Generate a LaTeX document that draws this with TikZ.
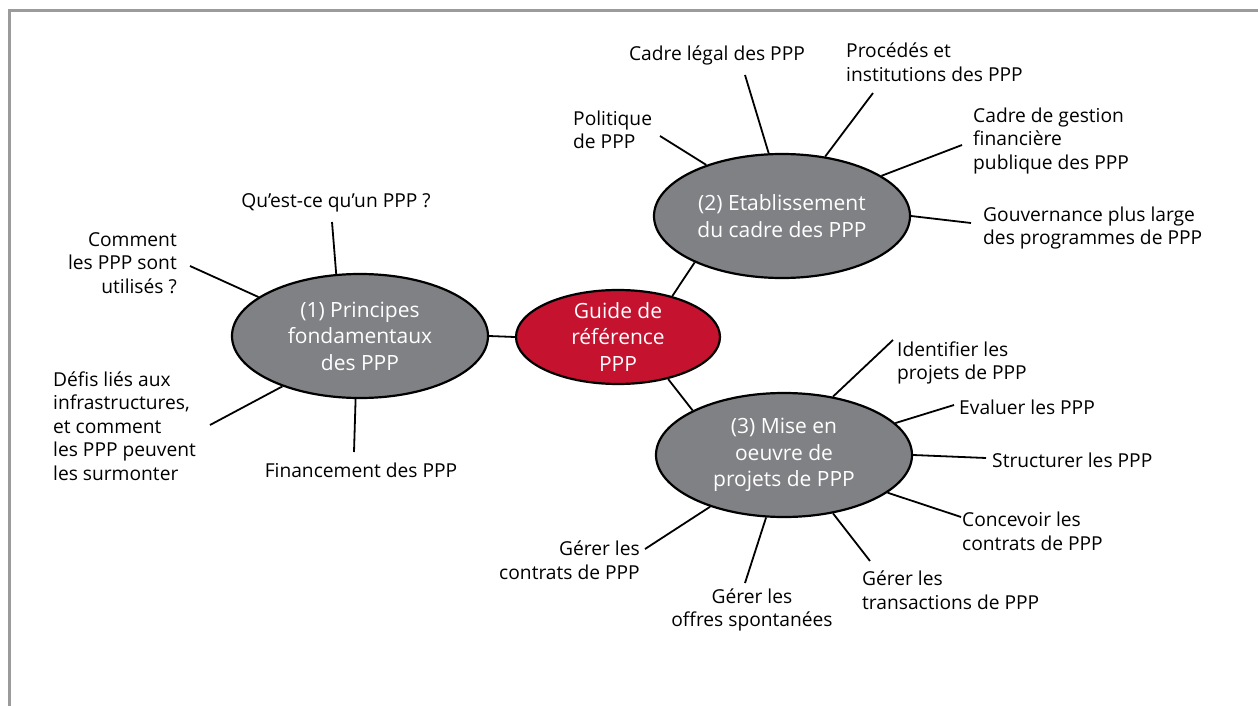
\documentclass[tikz,border=0pt]{standalone}
\usepackage{fontspec}
\setmainfont{Open Sans}
\usetikzlibrary{shapes.geometric}
\definecolor{ellgray}{HTML}{808184}
\definecolor{ellred}{HTML}{C4122F}
\definecolor{framegray}{HTML}{9B9B9B}
\begin{document}
\begin{tikzpicture}[x=1pt,y=-1pt,
  bub/.style={ellipse, draw=black, line width=2.2pt, inner sep=0pt, minimum width=256pt, minimum height=124pt, fill=ellgray},
  hub/.style={bub, fill=ellred, minimum width=204pt, minimum height=94pt},
  btxt/.style={text=white, align=center, font=\fontsize{21}{26.5}\selectfont, inner sep=0pt},
  leaf/.style={inner sep=0pt, font=\fontsize{19.2}{23.6}\selectfont, text=black},
  link/.style={line width=1.8pt}
]
\useasboundingbox (0,0) rectangle (1258,706);
\draw[framegray, line width=3pt] (9,706) -- (9,10.5) -- (1258,10.5);

% ellipses
\node[bub] (e1) at (360,336) {};
\node[btxt] (t1) at (e1) {(1) Principes\\fondamentaux\\des PPP};
\node[hub] (g) at (618,337) {};
\node[btxt] (tg) at (g) {Guide de\\référence\\PPP};
\node[bub] (e2) at (782,216) {};
\node[btxt] (t2) at (e2) {(2) Etablissement\\du cadre des PPP};
\node[bub] (e3) at (784,455) {};
\node[btxt] (t3) at (e3) {(3) Mise en\\oeuvre de\\projets de PPP};

% hub links
\draw[link] (e1.east) -- (g.west);
\draw[link] (g.37) -- (e2.208);
\draw[link] (g.320) -- (e3.154);

% (1) leaves
\node[leaf] (l11) at (336,203) {Qu’est-ce qu’un PPP ?};
\node[leaf, anchor=east, align=right] (l12) at (177,263) {Comment\\les PPP sont\\utilisés ?};
\node[leaf, anchor=west, align=left] (l13) at (53,426) {Défis liés aux\\infrastructures,\\et comment\\les PPP peuvent\\les surmonter};
\node[leaf] (l14) at (361,470) {Financement des PPP};
\coordinate (c11) at (332,222);
\coordinate (c12) at (190,266);
\coordinate (c13) at (210,425);
\coordinate (c14) at (354,452);
\draw[link] (e1.111) -- (c11);
\draw[link] (e1.159) -- (c12);
\draw[link] (e1.213) -- (c13);
\draw[link] (e1.266) -- (c14);

% (2) leaves
\node[leaf, anchor=west, align=left] (l21) at (573,130) {Politique\\de PPP};
\node[leaf] (l22) at (717,55) {Cadre légal des PPP};
\node[leaf, anchor=west, align=left] (l23) at (846,62) {Procédés et\\institutions des PPP};
\node[leaf, anchor=west, align=left] (l24) at (973,141) {Cadre de gestion\\financière\\publique des PPP};
\node[leaf, anchor=west, align=left] (l25) at (983,228) {Gouvernance plus large\\des programmes de PPP};
\coordinate (c21) at (660,136);
\coordinate (c22) at (745,75);
\coordinate (c23) at (873,93);
\coordinate (c24) at (962,145);
\coordinate (c25) at (971,223);
\draw[link] (e2.146) -- (c21);
\draw[link] (e2.102) -- (c22);
\draw[link] (e2.54) -- (c23);
\draw[link] (e2.22) -- (c24);
\draw[link] (e2.east) -- (c25);

% (3) leaves
\node[leaf, anchor=west, align=left] (l31) at (897,363) {Identifier les\\projets de PPP};
\node[leaf, anchor=west] (l32) at (959,407) {Evaluer les PPP};
\node[leaf, anchor=west] (l33) at (992,460) {Structurer les PPP};
\node[leaf, anchor=west, align=left] (l34) at (962,531) {Concevoir les\\contrats de PPP};
\node[leaf, anchor=west, align=left] (l35) at (862,590) {Gérer les\\transactions de PPP};
\node[leaf, align=center] (l36) at (752,610) {Gérer les\\offres spontanées};
\node[leaf, anchor=east, align=right] (l37) at (640,560) {Gérer les\\contrats de PPP};
\coordinate (c31) at (893,340);
\coordinate (c32) at (954,405);
\coordinate (c33) at (986,458);
\coordinate (c34) at (961,517);
\coordinate (c35) at (870,561);
\coordinate (c36) at (745,583);
\coordinate (c37) at (645,549);
\draw[link] (e3.50) -- (c31);
\draw[link] (e3.16) -- (c32);
\draw[link] (e3.east) -- (c33);
\draw[link] (e3.-20) -- (c34);
\draw[link] (e3.-50) -- (c35);
\draw[link] (e3.254) -- (c36);
\draw[link] (e3.215) -- (c37);
\end{tikzpicture}
\end{document}
